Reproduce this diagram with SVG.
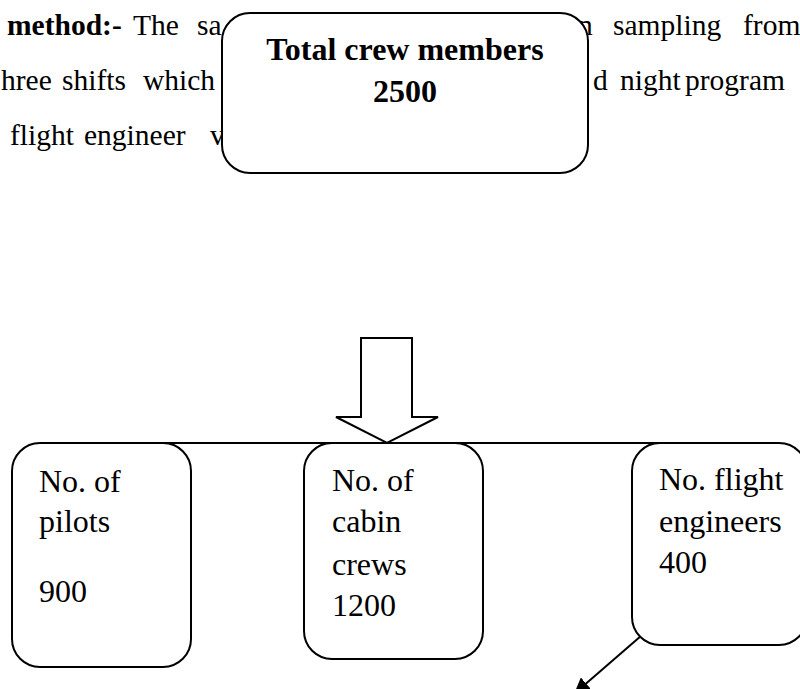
<svg xmlns="http://www.w3.org/2000/svg" width="800" height="689" viewBox="0 0 800 689">
  <defs>
    <style>
      .bg { font-family: "Liberation Serif", "Times New Roman", serif; font-size: 29.5px; fill: #000; }
      .bgb { font-weight: bold; }
      .box { fill: #fff; stroke: #000; stroke-width: 2; }
      .title { font-family: "Liberation Serif", "Times New Roman", serif; font-size: 32px; font-weight: bold; fill: #000; text-anchor: middle; }
      .lbl { font-family: "Liberation Serif", "Times New Roman", serif; font-size: 32px; fill: #000; }
      .conn { fill: none; stroke: #000; stroke-width: 2; }
    </style>
    <marker id="head" viewBox="0 0 10 10" refX="10" refY="5" markerWidth="16" markerHeight="16" markerUnits="userSpaceOnUse" orient="auto">
      <path d="M0,0 L10,5 L0,10 z" fill="#000"/>
    </marker>
  </defs>
  <rect width="800" height="689" fill="#fff"/>

  <g id="background-text" class="bg">
    <text y="35"><tspan x="7" class="bgb">method:-</tspan><tspan x="133">The</tspan><tspan x="197">sa</tspan><tspan x="578">n</tspan><tspan x="613">sampling</tspan><tspan x="743">from</tspan></text>
    <text y="90"><tspan x="1">hree</tspan><tspan x="62">shifts</tspan><tspan x="143">which</tspan><tspan x="593">d</tspan><tspan x="620">night</tspan><tspan x="685">program</tspan></text>
    <text y="145"><tspan x="10">flight</tspan><tspan x="84">engineer</tspan><tspan x="210">v</tspan></text>
  </g>

  <g id="total">
    <rect class="box" x="222" y="13" width="366" height="160" rx="28" ry="28"/>
    <text class="title" x="405" y="60">Total crew members</text>
    <text class="title" x="405" y="102">2500</text>
  </g>

  <g id="connectors">
    <line class="conn" x1="110" y1="443" x2="710" y2="443"/>
    <path class="conn" d="M361,338 L412,338 L412,417 L438,417 L387,443 L336,417 L361,417 Z" fill="#fff"/>
    <line class="conn" x1="649" y1="629" x2="574" y2="694" marker-end="url(#head)"/>
  </g>

  <g id="pilots">
    <rect class="box" x="12" y="443" width="179" height="224" rx="28" ry="28"/>
    <text class="lbl" x="39" y="492">No. of</text>
    <text class="lbl" x="39" y="532">pilots</text>
    <text class="lbl" x="39" y="602">900</text>
  </g>

  <g id="cabin">
    <rect class="box" x="304" y="443" width="179" height="216" rx="28" ry="28"/>
    <text class="lbl" x="332" y="491">No. of</text>
    <text class="lbl" x="332" y="532">cabin</text>
    <text class="lbl" x="332" y="575">crews</text>
    <text class="lbl" x="332" y="616">1200</text>
  </g>

  <g id="engineers">
    <rect class="box" x="632" y="443" width="175" height="202" rx="28" ry="28"/>
    <text class="lbl" x="659" y="490">No. flight</text>
    <text class="lbl" x="659" y="532">engineers</text>
    <text class="lbl" x="659" y="573">400</text>
  </g>
</svg>
